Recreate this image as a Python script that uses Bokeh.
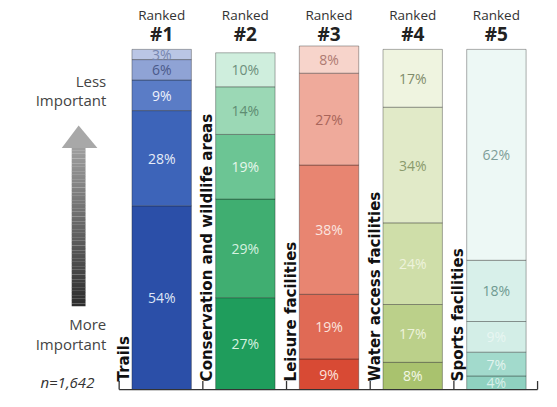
import numpy as np
from bokeh.plotting import figure
from bokeh.models import Range1d, ColumnDataSource, Label
from bokeh.core.properties import value
from bokeh.embed import file_html
from bokeh.resources import INLINE

# ---- data ----
categories = ["Trails", "Conservation and wildlife areas", "Leisure facilities",
              "Water access facilities", "Sports facilities"]
headers = ["#1", "#2", "#3", "#4", "#5"]
rank1 = [54, 27, 9, 8, 4]
rank2 = [28, 29, 19, 17, 7]
rank3 = [9, 19, 38, 24, 9]
rank4 = [6, 14, 27, 34, 18]
rank5 = [3, 10, 8, 17, 62]
n_label = "n=1,642"

# ---- styling ----
fill_colors = [
    ["#2b4fa8", "#3d64b9", "#5a7cc6", "#8fa3d5", "#bac6e5"],
    ["#1f9d5c", "#40ae71", "#6cc594", "#9bd8b5", "#cfeedd"],
    ["#d84a34", "#e06a55", "#e88571", "#efaa9b", "#f7d4cb"],
    ["#a9c26e", "#bbd08a", "#cfdea9", "#e1eac8", "#eff4e0"],
    ["#8fd1c0", "#a2dacc", "#d3eee7", "#d8f0ea", "#edf8f5"],
]
text_colors = [
    ["#dfe6f6", "#e6ecf8", "#eef2fb", "#4b5a8a", "#7786b0"],
    ["#d6f2e0", "#d6f2e0", "#e6f7ec", "#5e8c72", "#6d8f7c"],
    ["#fbe3dd", "#fbe3dd", "#fbe6e0", "#a8655a", "#ae7a72"],
    ["#f3f7e6", "#eef3dc", "#eef3dc", "#8a9a6c", "#7f8c6c"],
    ["#d9f0ea", "#e3f4ef", "#e8f6f2", "#6f9a91", "#7f9e99"],
]

ranks = [rank1, rank2, rank3, rank4, rank5]
xs, bottoms, tops, cols, labs, tcols, mids = [], [], [], [], [], [], []
for i in range(len(categories)):
    cum = 0
    for r in range(5):
        v = ranks[r][i]
        xs.append(i + 0.508)
        bottoms.append(cum)
        tops.append(cum + v)
        mids.append(cum + v / 2)
        cols.append(fill_colors[i][r])
        tcols.append(text_colors[i][r])
        labs.append(f"{v}%")
        cum += v

src = ColumnDataSource(dict(x=xs, bottom=bottoms, top=tops, color=cols,
                            label=labs, tcolor=tcols, mid=mids))

p = figure(width=541, height=391, output_backend="svg", toolbar_location=None,
           x_range=Range1d(-1.418, 5.047), y_range=Range1d(-0.575, 114.37),
           min_border=0, min_border_left=0, min_border_right=0,
           min_border_top=0, min_border_bottom=0)
p.outline_line_color = None
p.xgrid.visible = False
p.ygrid.visible = False
p.xaxis.visible = False
p.yaxis.visible = False
p.background_fill_color = "white"

p.vbar(x="x", width=0.71, bottom="bottom", top="top", fill_color="color",
       line_color="#1a1a1a", line_alpha=0.35, line_width=1, source=src)
p.text(x="x", y="mid", text="label", text_color="tcolor", source=src,
       text_align="center", text_baseline="middle",
       text_font=value("Open Sans"), text_font_size="14px")

# category axis: baseline and boundary ticks
bounds = list(range(len(categories) + 1))
p.segment(x0=[bounds[0]], y0=[0], x1=[bounds[-1]], y1=[0],
          line_color="#333333", line_width=1.3)
p.segment(x0=bounds, y0=[0] * len(bounds), x1=bounds, y1=[2.5] * len(bounds),
          line_color="#333333", line_width=1.3)

# headers
hx = [i + 0.508 for i in range(len(headers))]
p.text(x=hx, y=[110.0] * 5, text=["Ranked"] * 5, text_align="center",
       text_baseline="middle", text_font=value("Open Sans"),
       text_font_size="13.5px", text_color="#333333")
p.text(x=hx, y=[104.6] * 5, text=headers, text_align="center",
       text_baseline="middle", text_font=value("Open Sans"),
       text_font_size="19px", text_font_style="bold", text_color="#222222")

# rotated category labels
cx = [i + 0.055 for i in range(len(categories))]
p.text(x=cx, y=[2.4] * 5, text=categories, angle=np.pi / 2,
       text_align="left", text_baseline="middle",
       text_font=value("DejaVu Sans"), text_font_style="bold",
       text_font_size="15px", text_color="#111111")

# left annotations
lx = -0.154
for t, yy in [("Less", 90.8), ("Important", 85.0), ("More", 19.3), ("Important", 13.5)]:
    p.add_layout(Label(x=lx, y=yy, text=t, text_align="right", text_baseline="middle",
                       text_font="Open Sans", text_font_size="15px",
                       text_color="#444444"))
p.add_layout(Label(x=-0.296, y=2.3, text=n_label, text_align="right",
                   text_baseline="middle", text_font="Open Sans",
                   text_font_size="15px", text_font_style="italic",
                   text_color="#333333"))

# gradient arrow (decorative)
nseg = 60
edges = np.linspace(24.5, 71.0, nseg + 1)
shades = np.linspace(0.18, 0.62, nseg)
acol = ["#%02x%02x%02x" % ((int(s * 255),) * 3) for s in shades]
p.quad(left=-0.567, right=-0.402, bottom=edges[:-1], top=edges[1:] + 0.05,
       fill_color=acol, line_color=None)
p.patch(x=[-0.686, -0.484, -0.260], y=[71.0, 77.6, 71.0],
        fill_color="#a8a8a8", line_color=None)

open("out.html", "w").write(file_html(p, INLINE))
